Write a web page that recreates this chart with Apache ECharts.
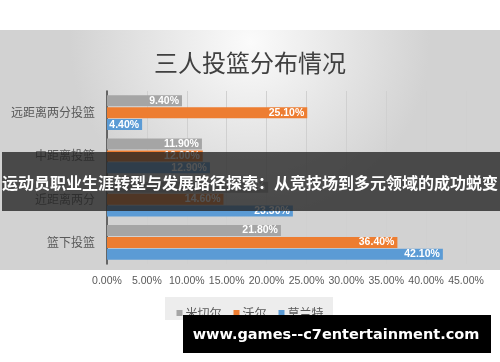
<!DOCTYPE html>
<html><head><meta charset="utf-8">
<script src="https://cdn.jsdelivr.net/npm/echarts@6/dist/echarts.min.js"></script>
<style>html,body{margin:0;padding:0;background:#fff}#c{width:500px;height:362px}</style>
</head><body><div id="c"></div>
<script>
const categories = ['远距离两分投篮', '中距离投篮', '近距离两分', '篮下投篮'];
const seriesNames = ['米切尔', '沃尔', '莫兰特'];
const mitchell = [9.4, 11.9, 20.2, 21.8];
const wall = [25.1, 12.0, 14.6, 36.4];
const morant = [4.4, 12.9, 23.3, 42.1];
const colors = ['#a5a5a5', '#ed7d31', '#5b9bd5'];
const xTicks = [0, 5, 10, 15, 20, 25, 30, 35, 40, 45];

const chart = echarts.init(document.getElementById('c'), null, {renderer: 'canvas'});
const cjk = '"Noto Sans CJK SC", "Noto Sans", sans-serif';
function mk(name, data, i) {
  return {
    name: name, type: 'bar', data: data, barWidth: 11, barGap: '9%',
    itemStyle: {color: colors[i]},
    label: {show: true, position: 'insideRight', distance: 3, color: '#fff', fontWeight: 'bold',
      fontSize: 10.5, fontFamily: 'Liberation Sans, sans-serif',
      formatter: p => p.value.toFixed(2) + '%'}
  };
}
chart.setOption({
  animation: false,
  color: colors,
  graphic: [
    {type: 'rect', z: -10, shape: {x: 0, y: 30, width: 500, height: 240},
      style: {fill: {type: 'radial', x: 0.5, y: 0.05, r: 0.75,
        colorStops: [{offset: 0, color: '#fbfbfb'}, {offset: 1, color: '#d2d2d2'}]}}},
    {type: 'rect', z: 0, shape: {x: 165, y: 297, width: 168, height: 23},
      style: {fill: 'rgba(235,235,235,0.9)'}},
    {type: 'rect', z: 100, shape: {x: 2, y: 152, width: 498, height: 59},
      style: {fill: 'rgba(35,35,35,0.78)'}},
    {type: 'text', z: 101, x: 250, y: 183,
      style: {text: '运动员职业生涯转型与发展路径探索：从竞技场到多元领域的成功蜕变', fill: '#fff',
        font: 'bold 16px "Noto Sans CJK SC", sans-serif', textAlign: 'center', textVerticalAlign: 'middle'}},
    {type: 'rect', z: 100, shape: {x: 183, y: 315, width: 308, height: 38},
      style: {fill: '#000'}},
    {type: 'text', z: 101, x: 336, y: 335,
      style: {text: 'www.games--c7entertainment.com', fill: '#fff',
        font: 'bold 14.5px "DejaVu Sans", sans-serif', textAlign: 'center', textVerticalAlign: 'middle'}}
  ],
  title: {text: '三人投篮分布情况', left: 'center', top: 46,
    textStyle: {fontFamily: cjk, fontSize: 24, fontWeight: 'normal', color: '#404040'}},
  legend: {data: seriesNames, left: 'center', top: 302, itemWidth: 6, itemHeight: 6, itemGap: 12,
    icon: 'rect', textStyle: {fontFamily: cjk, fontSize: 12, color: '#595959', padding: [0, 0, 0, -2]}},
  grid: {left: 107, right: 34, top: 91, bottom: 98},
  xAxis: {type: 'value', min: 0, max: 45, interval: 5,
    axisLine: {show: false}, axisTick: {show: false},
    splitLine: {lineStyle: {color: '#d0d0d0'}},
    axisLabel: {fontSize: 10.5, color: '#595959', margin: 12, fontFamily: 'Liberation Sans, sans-serif',
      formatter: v => v.toFixed(2) + '%'}},
  yAxis: {type: 'category', data: categories, inverse: true,
    axisLine: {lineStyle: {color: '#404040', width: 1.5}}, axisTick: {show: false},
    axisLabel: {fontFamily: cjk, fontSize: 12, color: '#595959', margin: 12}},
  series: [mk(seriesNames[0], mitchell, 0), mk(seriesNames[1], wall, 1), mk(seriesNames[2], morant, 2)]
});
</script></body></html>
